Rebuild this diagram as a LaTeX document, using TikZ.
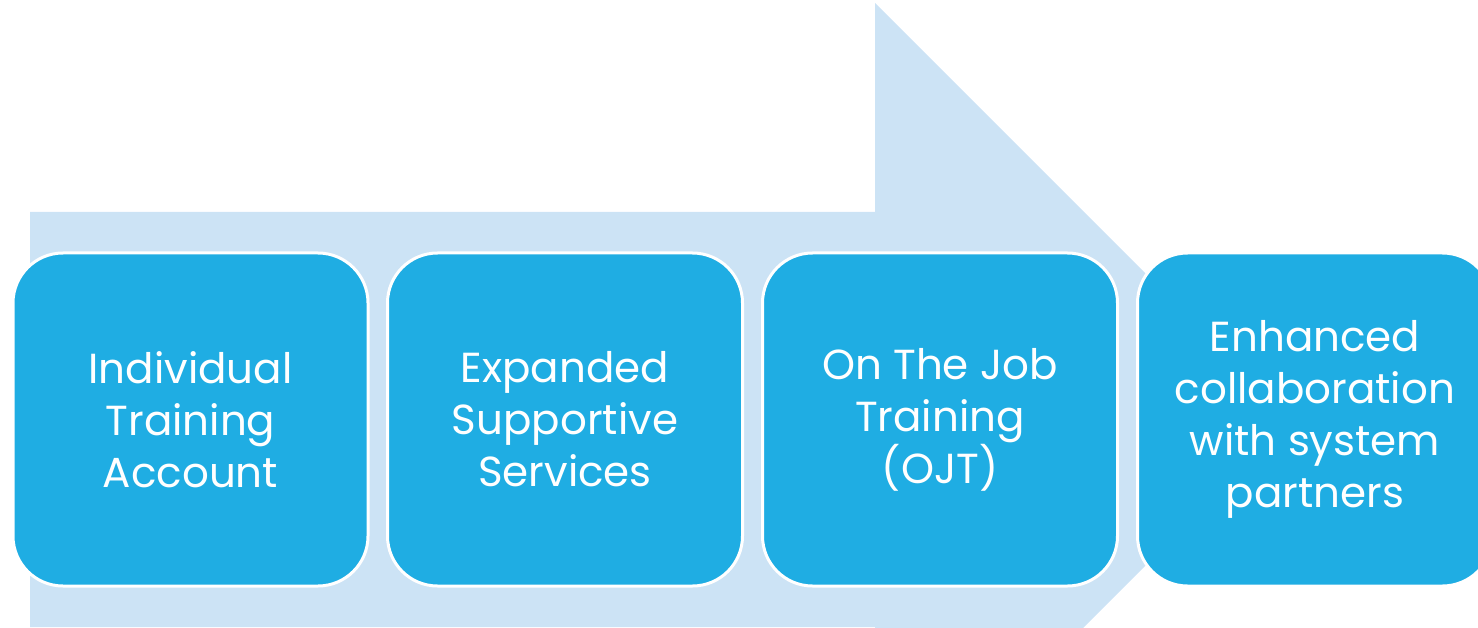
\documentclass[tikz,border=0pt]{standalone}
\usepackage{fontspec}
\setmainfont{Poppins}
\definecolor{arrowblue}{HTML}{CCE3F5}
\definecolor{boxblue}{HTML}{1FADE3}
\begin{document}
\begin{tikzpicture}[x=1pt,y=-1pt,
  stepbox/.style={draw=white, line width=3pt, fill=boxblue, rounded corners=50pt,
    minimum width=355pt, minimum height=333pt, inner sep=0pt,
    text=white, align=center, font=\fontsize{42}{52}\selectfont}]
\useasboundingbox (0,0) rectangle (1478,628);
\clip (0,0) rectangle (1478,628);
\fill[arrowblue] (30,212) -- (875,212) -- (875,3) -- (1291.5,419.5) -- (875,836) -- (875,627) -- (30,627) -- cycle;
\node[stepbox] (b1) at (190.5,419.5) {Individual\\Training\\Account};
\node[stepbox] (b2) at (565,419.5) {Expanded\\Supportive\\Services};
\node[stepbox] (b3) at (940,419.5) {On The Job\\Training\\(OJT)};
\node[stepbox] (b4) at (1315,419.5) {Enhanced\\collaboration\\with system\\partners};
\end{tikzpicture}
\end{document}
